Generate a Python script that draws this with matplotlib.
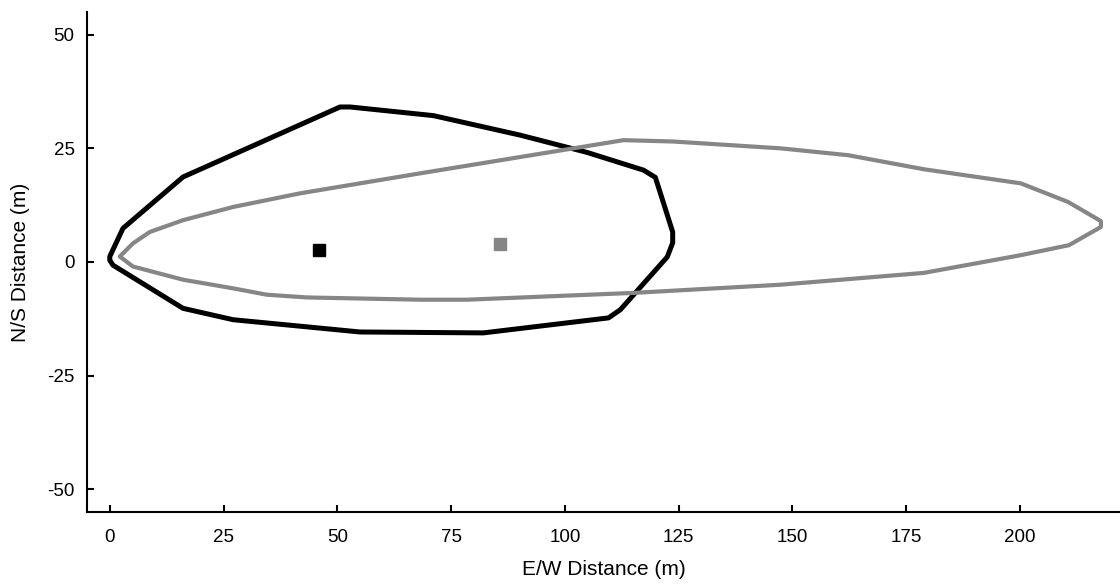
import matplotlib.pyplot as plt
from matplotlib.patches import Polygon

plt.rcParams["font.family"] = ["Liberation Sans", "DejaVu Sans"]
plt.rcParams["axes.unicode_minus"] = False

# outline 1 (black), E/W and N/S in metres
ew_black = [50.6, 52.8, 71.1, 90.2, 104.9, 117.3, 119.9, 123.7, 123.7, 122.5,
            112.2, 109.6, 82.1, 55.0, 27.1, 16.1, 0.7, 0.0, 0.0, 2.9, 16.1]
ns_black = [34.1, 34.1, 32.2, 27.9, 24.1, 20.2, 18.6, 6.6, 4.2, 1.1,
            -10.5, -12.3, -15.6, -15.4, -12.7, -10.2, -0.7, 0.4, 1.2, 7.4, 18.7]

# outline 2 (grey)
ew_grey = [2.2, 5.1, 8.8, 16.1, 27.1, 41.8, 68.2, 112.9, 123.9, 147.4, 162.2,
           178.9, 200.2, 210.6, 217.8, 217.8, 210.8, 200.2, 178.9, 147.4, 115.1,
           78.5, 68.2, 43.3, 34.5, 27.1, 16.1, 5.1]
ns_grey = [1.2, 4.1, 6.6, 9.2, 12.1, 15.1, 19.5, 26.8, 26.5, 25.0, 23.5,
           20.4, 17.3, 13.2, 9.0, 7.7, 3.7, 1.5, -2.4, -5.0, -6.8,
           -8.3, -8.3, -7.8, -7.2, -5.8, -3.9, -1.0]

# centre points
centre_black = (46.0, 2.6)
centre_grey = (85.8, 3.9)

fig = plt.figure(figsize=(11.2, 5.84), dpi=100)
ax = fig.add_axes([0.0777, 0.1233, 0.9223, 0.8562])

ax.add_patch(Polygon(list(zip(ew_black, ns_black)), closed=True, fill=False,
                     edgecolor="black", lw=3.6, joinstyle="round"))
ax.add_patch(Polygon(list(zip(ew_grey, ns_grey)), closed=True, fill=False,
                     edgecolor="#868686", lw=3.0, joinstyle="round"))
ax.plot(*centre_black, marker="s", ms=9, color="black", ls="none")
ax.plot(*centre_grey, marker="s", ms=9, color="#868686", ls="none")

ax.set_xlim(-5, 222)
ax.set_ylim(-55, 55)
ax.set_xticks([0, 25, 50, 75, 100, 125, 150, 175, 200])
ax.set_yticks([-50, -25, 0, 25, 50])

for side in ("top", "right"):
    ax.spines[side].set_visible(False)
for side in ("left", "bottom"):
    ax.spines[side].set_linewidth(1.5)

ax.tick_params(direction="in", length=5, width=1.5, labelsize=13.5)
ax.tick_params(axis="x", pad=12)
ax.tick_params(axis="y", pad=9)
ax.set_xlabel("E/W Distance (m)", fontsize=15, labelpad=10)
ax.set_ylabel("N/S Distance (m)", fontsize=15, labelpad=12)

fig.savefig("out.png", dpi=100)
